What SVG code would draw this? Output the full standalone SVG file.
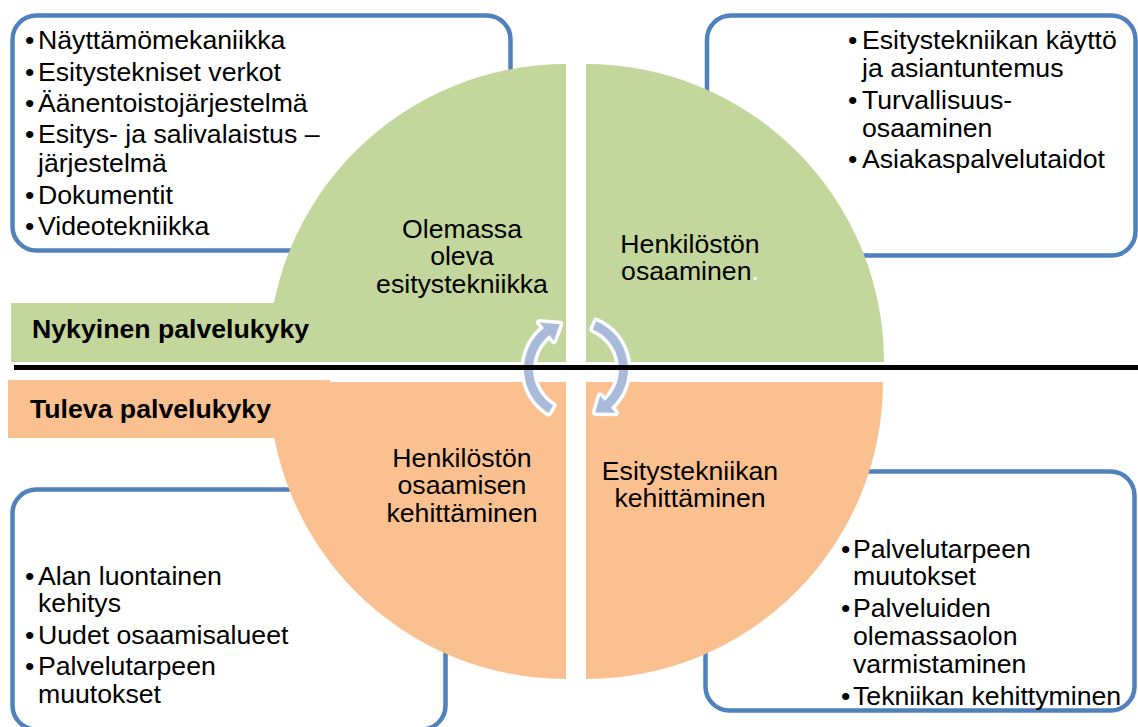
<svg xmlns="http://www.w3.org/2000/svg" width="1138" height="727" viewBox="0 0 1138 727">
<style>
.box{fill:#ffffff;stroke:#4F81BD;stroke-width:4.5}
.t{font-family:"Liberation Sans",Arial,sans-serif;font-size:26.67px;fill:#000000}
.c{text-anchor:middle}
.b{font-weight:bold}
.green{fill:#C3D69B}
.orange{fill:#FAC090}
.arrow{fill:#A9BADB;stroke:#ffffff;stroke-width:7;stroke-linejoin:round;paint-order:stroke fill}
</style>
<rect width="1138" height="727" fill="#ffffff"/>

<g id="box-top-left">
<rect class="box" x="12.5" y="15.5" width="498" height="235" rx="24"/>
<text class="t" x="25" y="49">•</text><text class="t" x="38" y="49">Näyttämömekaniikka</text>
<text class="t" x="25" y="81">•</text><text class="t" x="38" y="81">Esitystekniset verkot</text>
<text class="t" x="25" y="112">•</text><text class="t" x="38" y="112">Äänentoistojärjestelmä</text>
<text class="t" x="25" y="143">•</text><text class="t" x="38" y="143">Esitys- ja salivalaistus –</text>
<text class="t" x="38" y="172">järjestelmä</text>
<text class="t" x="25" y="204">•</text><text class="t" x="38" y="204">Dokumentit</text>
<text class="t" x="25" y="235">•</text><text class="t" x="38" y="235">Videotekniikka</text>
</g>

<g id="box-top-right">
<rect class="box" x="707" y="15.5" width="428.5" height="240" rx="24"/>
<text class="t" x="848" y="49">•</text><text class="t" x="862" y="49">Esitystekniikan käyttö</text>
<text class="t" x="862" y="77">ja asiantuntemus</text>
<text class="t" x="848" y="109">•</text><text class="t" x="862" y="109">Turvallisuus-</text>
<text class="t" x="862" y="137">osaaminen</text>
<text class="t" x="848" y="168">•</text><text class="t" x="862" y="168">Asiakaspalvelutaidot</text>
</g>

<g id="box-bottom-left">
<rect class="box" x="12.5" y="489.5" width="433" height="240" rx="24"/>
<text class="t" x="25" y="585">•</text><text class="t" x="38" y="585">Alan luontainen</text>
<text class="t" x="38" y="612">kehitys</text>
<text class="t" x="25" y="644">•</text><text class="t" x="38" y="644">Uudet osaamisalueet</text>
<text class="t" x="25" y="675">•</text><text class="t" x="38" y="675">Palvelutarpeen</text>
<text class="t" x="38" y="703">muutokset</text>
</g>

<g id="box-bottom-right">
<rect class="box" x="705.5" y="471.5" width="429" height="239" rx="24"/>
<text class="t" x="841" y="558">•</text><text class="t" x="853" y="558">Palvelutarpeen</text>
<text class="t" x="853" y="585">muutokset</text>
<text class="t" x="841" y="617">•</text><text class="t" x="853" y="617">Palveluiden</text>
<text class="t" x="853" y="645">olemassaolon</text>
<text class="t" x="853" y="673">varmistaminen</text>
<text class="t" x="841" y="705">•</text><text class="t" x="853" y="705">Tekniikan kehittyminen</text>
</g>

<g id="q-top-left">
<path class="green" d="M566,362 L268,362 A298,298 0 0 1 566,64 Z"/>
<text class="t c" x="462" y="238">Olemassa</text>
<text class="t c" x="462" y="265">oleva</text>
<text class="t c" x="462" y="293">esitystekniikka</text>
</g>
<g id="q-top-right">
<path class="green" d="M586,362 L586,64 A298,298 0 0 1 884,362 Z"/>
<text class="t c" x="690" y="253">Henkilöstön</text>
<text class="t c" x="690" y="280">osaaminen<tspan fill="#ffffff">.</tspan></text>
</g>
<g id="q-bottom-left">
<path class="orange" d="M566,382 L566,679 A297,297 0 0 1 269,382 Z"/>
<text class="t c" x="462" y="467">Henkilöstön</text>
<text class="t c" x="462" y="494">osaamisen</text>
<text class="t c" x="462" y="522">kehittäminen</text>
</g>
<g id="q-bottom-right">
<path class="orange" d="M586,382 L883,382 A297,297 0 0 1 586,679 Z"/>
<text class="t c" x="690" y="480">Esitystekniikan</text>
<text class="t c" x="690" y="507">kehittäminen</text>
</g>

<g id="label-current">
<rect class="green" x="11" y="303" width="320" height="59"/>
<text class="t b" x="32" y="338">Nykyinen palvelukyky</text>
</g>
<g id="label-future">
<rect class="orange" x="8" y="380" width="322" height="58"/>
<text class="t b" x="30" y="418">Tuleva palvelukyky</text>
</g>

<g id="connectors">
<path class="arrow" d="M548.45,413.10 A52,52 0 0 1 543.98,328.02 L539.67,322.51 L559.75,324.36 L553.83,340.63 L549.52,335.12 A43,43 0 0 0 553.21,405.46 Z"/>
<path class="arrow" d="M596.32,321.13 A52,52 0 0 1 610.79,407.64 L615.48,412.84 L595.32,412.39 L600.09,395.75 L604.77,400.95 A43,43 0 0 0 592.80,329.42 Z"/>
</g>

<rect x="14" y="365" width="1124" height="5" fill="#000000"/>
</svg>
